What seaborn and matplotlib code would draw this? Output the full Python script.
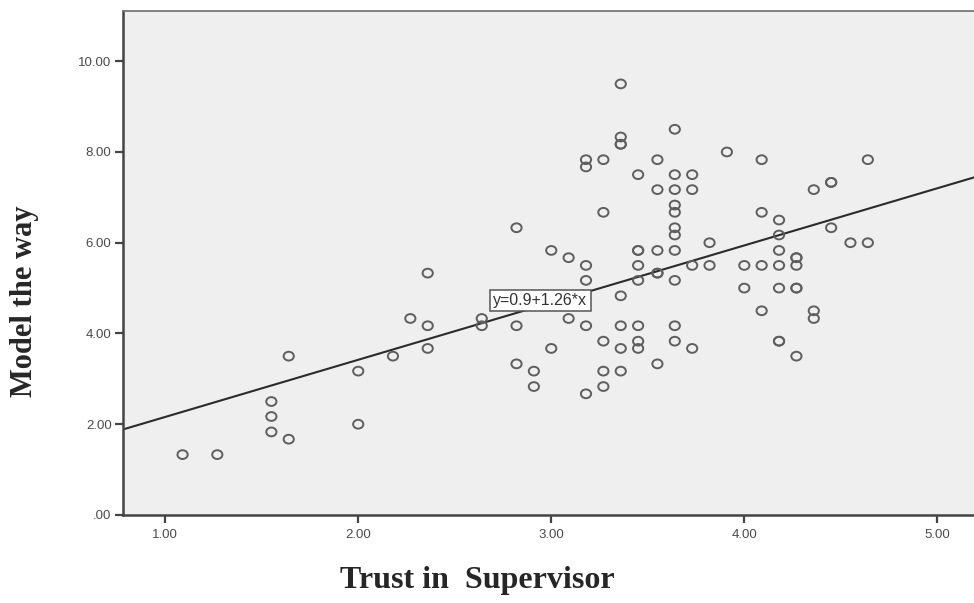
import matplotlib
matplotlib.use("Agg")
import matplotlib.pyplot as plt
from matplotlib.path import Path
import numpy as np
import pandas as pd
import seaborn as sns

# Trust in Supervisor (x) and Model the way (y) scores for each respondent
trust = [
    1.09, 1.27, 1.55, 1.55, 1.55, 1.64, 1.64, 2.00, 2.00, 2.18,
    2.27, 2.36, 2.36, 2.36, 2.64, 2.64, 2.82, 2.82, 2.82, 2.91,
    2.91, 3.00, 3.00, 3.09, 3.09, 3.18, 3.18, 3.18, 3.18, 3.18,
    3.18, 3.27, 3.27, 3.27, 3.27, 3.27, 3.36, 3.36, 3.36, 3.36,
    3.36, 3.36, 3.36, 3.36, 3.45, 3.45, 3.45, 3.45, 3.45, 3.45,
    3.45, 3.45, 3.55, 3.55, 3.55, 3.55, 3.55, 3.55, 3.64, 3.64,
    3.64, 3.64, 3.64, 3.64, 3.64, 3.64, 3.64, 3.64, 3.64, 3.73,
    3.73, 3.73, 3.73, 3.82, 3.82, 3.91, 4.00, 4.00, 4.09, 4.09,
    4.09, 4.09, 4.18, 4.18, 4.18, 4.18, 4.18, 4.18, 4.18, 4.27,
    4.27, 4.27, 4.27, 4.27, 4.27, 4.36, 4.36, 4.36, 4.45, 4.45,
    4.45, 4.55, 4.64, 4.64,
]
model_way = [
    1.33, 1.33, 2.50, 2.17, 1.83, 1.67, 3.50, 3.17, 2.00, 3.50,
    4.33, 4.17, 3.67, 5.33, 4.33, 4.17, 4.17, 3.33, 6.33, 3.17,
    2.83, 5.83, 3.67, 5.67, 4.33, 7.83, 7.67, 5.50, 5.17, 4.17,
    2.67, 7.83, 6.67, 3.83, 3.17, 2.83, 9.50, 8.33, 8.17, 8.17,
    4.83, 4.17, 3.67, 3.17, 7.50, 5.83, 5.83, 5.50, 5.17, 4.17,
    3.83, 3.67, 7.83, 7.17, 5.83, 5.33, 5.33, 3.33, 8.50, 7.50,
    7.17, 6.83, 6.67, 6.33, 6.17, 5.83, 5.17, 4.17, 3.83, 7.50,
    7.17, 5.50, 3.67, 6.00, 5.50, 8.00, 5.50, 5.00, 7.83, 6.67,
    5.50, 4.50, 6.50, 6.17, 5.83, 5.50, 5.00, 3.83, 3.83, 5.67,
    5.67, 5.50, 5.00, 5.00, 3.50, 7.17, 4.50, 4.33, 7.33, 7.33,
    6.33, 6.00, 7.83, 6.00,
]

# Fitted linear regression: y = intercept + slope * x
intercept = 0.9
slope = 1.26
fit_label = "y=0.9+1.26*x"

x_ticks = [1.0, 2.0, 3.0, 4.0, 5.0]
x_tick_labels = ["1.00", "2.00", "3.00", "4.00", "5.00"]
y_ticks = [0.0, 2.0, 4.0, 6.0, 8.0, 10.0]
y_tick_labels = [".00", "2.00", "4.00", "6.00", "8.00", "10.00"]

df = pd.DataFrame({"Trust in Supervisor": trust, "Model the way": model_way})

sns.set_style("white")
plt.rcParams["font.family"] = ["Liberation Sans", "DejaVu Sans"]

fig = plt.figure(figsize=(9.74, 6.03), dpi=100, facecolor="white")
ax = fig.add_axes([0.126, 0.146, 0.874, 0.836])
ax.set_facecolor("#efefef")

xlim = (0.78, 5.19)
ylim = (0.0, 11.11)

# Slightly wide open-ellipse marker
circle = Path.unit_circle()
ellipse = Path(circle.vertices * np.array([1.0, 0.86]), circle.codes)

sns.scatterplot(
    data=df, x="Trust in Supervisor", y="Model the way", ax=ax,
    marker=ellipse, s=54, facecolor="none", edgecolor="#5e5e5e",
    linewidth=1.4, zorder=3,
)
for coll in ax.collections:
    coll.set_facecolor("none")
    coll.set_edgecolor("#5e5e5e")

# Regression line across the full visible x range
line_x = np.array(xlim)
line_df = pd.DataFrame({"x": line_x, "y": intercept + slope * line_x})
sns.lineplot(data=line_df, x="x", y="y", ax=ax, color="#2b2b2b",
             linewidth=1.5, zorder=2)

ax.text(2.70, 4.73, fit_label, fontsize=11.5, color="#333333",
        ha="left", va="center", zorder=5,
        bbox=dict(boxstyle="square,pad=0.2", facecolor="white",
                  edgecolor="#555555", linewidth=1.1))

ax.set_xlim(*xlim)
ax.set_ylim(*ylim)
ax.set_xticks(x_ticks)
ax.set_xticklabels(x_tick_labels)
ax.set_yticks(y_ticks)
ax.set_yticklabels(y_tick_labels)
ax.tick_params(axis="both", which="major", bottom=True, left=True,
               direction="out", length=6, width=1.6,
               color="#444444", labelsize=9.5, labelcolor="#4a4a4a", pad=2)
ax.tick_params(axis="x", pad=4)

for side in ["left", "bottom"]:
    ax.spines[side].set_color("#444444")
    ax.spines[side].set_linewidth(1.8)
ax.spines["top"].set_color("#777777")
ax.spines["top"].set_linewidth(1.3)
ax.spines["right"].set_visible(False)

ax.set_xlabel("")
ax.set_ylabel("")
fig.text(0.49, 0.038, "Trust in  Supervisor", ha="center", va="center",
         fontsize=23, fontweight="bold", family=["Liberation Serif"])
fig.text(0.025, 0.5, "Model the way", ha="center", va="center",
         rotation=90, fontsize=22, fontweight="bold",
         family=["Liberation Serif"])

fig.savefig("out.png", dpi=100, facecolor="white")
